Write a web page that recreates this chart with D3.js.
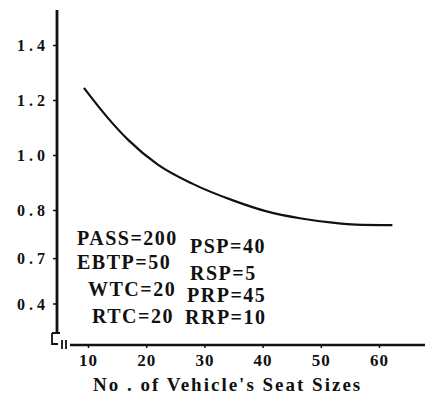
<!DOCTYPE html>
<html>
<head>
    <meta charset="UTF-8">
</head>
<body style="margin:0">
    <svg id="chart" width="427" height="403"></svg>
    <script src="https://d3js.org/d3.v7.min.js"></script>
    <script>
        // curve
        var seatSizes = [9.3, 13.4, 16.9, 22.0, 28.0, 34.9, 40.7, 46.4, 52.0, 56.0, 62.3];
        var costValues = [1.244, 1.135, 1.055, 0.965, 0.895, 0.835, 0.795, 0.770, 0.754, 0.747, 0.745];

        var xTicks = [10, 20, 30, 40, 50, 60];
        // the printed axis is not linear at the bottom, so the last two labels sit where they were printed
        var yTickValues = [1.4, 1.2, 1.0, 0.8, 0.625, 0.46];
        var yTickLabels = ["1.4", "1.2", "1.0", "0.8", "0.7", "0.4"];

        var leftNotes = ["PASS=200", "EBTP=50", "WTC=20", "RTC=20"];
        var rightNotes = ["PSP=40", "RSP=5", "PRP=45", "RRP=10"];

        var xLabel = "No . of Vehicle's Seat Sizes";

        var fontList = "'Times New Roman', 'Liberation Serif', serif",
            ink = "#111";

        var svg = d3.select("#chart");

        var xScale = d3.scaleLinear()
            .domain([10, 60])
            .range([88, 379]);

        var yScale = d3.scaleLinear()
            .domain([1.4, 0.8])
            .range([45, 210]);

        function styleText(sel, size, spacing) {
            sel.attr("font-family", fontList)
                .attr("font-weight", "bold")
                .attr("font-size", size)
                .attr("letter-spacing", spacing)
                .attr("fill", ink);
        }

        // y axis
        var yAxis = d3.axisLeft(yScale)
            .tickValues(yTickValues)
            .tickSize(4)
            .tickPadding(4)
            .tickFormat((d, i) => yTickLabels[i]);

        var gy = svg.append("g")
            .attr("transform", "translate(57,0)")
            .call(yAxis)
            .attr("font-family", null);
        gy.select(".domain").remove();
        gy.selectAll("line").attr("stroke", ink).attr("stroke-width", 1.5);
        gy.selectAll("text")
            .call(styleText, 16, 4)
            .attr("dy", "0.35em");

        svg.append("line")
            .attr("x1", 57).attr("x2", 57)
            .attr("y1", 10).attr("y2", 332)
            .attr("stroke", ink)
            .attr("stroke-width", 2.8);

        // x axis
        var xAxis = d3.axisBottom(xScale)
            .tickValues(xTicks)
            .tickSize(3)
            .tickPadding(6);

        var gx = svg.append("g")
            .attr("transform", "translate(0,345)")
            .call(xAxis)
            .attr("font-family", null);
        gx.select(".domain").remove();
        gx.selectAll("line").attr("stroke", ink).attr("stroke-width", 1.5);
        gx.selectAll("text").call(styleText, 17, 1);

        svg.append("line")
            .attr("x1", 70).attr("x2", 425)
            .attr("y1", 345).attr("y2", 345)
            .attr("stroke", ink)
            .attr("stroke-width", 2.5);

        // axis break marks in the corner
        svg.append("path")
            .attr("d", "M52,333 L60,333 M52,333 L52,344 L58,344 M62,340 L62,349 M66,340 L66,349")
            .attr("fill", "none")
            .attr("stroke", ink)
            .attr("stroke-width", 1.8);

        // curve
        var points = seatSizes.map((s, i) => [s, costValues[i]]);

        var line = d3.line()
            .x(d => xScale(d[0]))
            .y(d => yScale(d[1]))
            .curve(d3.curveMonotoneX);

        svg.append("path")
            .datum(points)
            .attr("d", line)
            .attr("fill", "none")
            .attr("stroke", ink)
            .attr("stroke-width", 2.2);

        // parameter notes
        var leftX = [77, 77, 88, 92], leftY = [245, 269, 296, 323];
        var rightX = [190, 190, 187, 185], rightY = [253, 280, 302, 324];

        function addNotes(cls, notes, xs, ys) {
            svg.selectAll("." + cls)
                .data(notes)
                .enter()
                .append("text")
                .attr("class", cls)
                .attr("x", (d, i) => xs[i])
                .attr("y", (d, i) => ys[i])
                .call(styleText, 20, 1.5)
                .text(d => d);
        }
        addNotes("leftNote", leftNotes, leftX, leftY);
        addNotes("rightNote", rightNotes, rightX, rightY);

        svg.append("text")
            .attr("x", 93)
            .attr("y", 391)
            .call(styleText, 19, 2)
            .text(xLabel);
    </script>
</body>
</html>
